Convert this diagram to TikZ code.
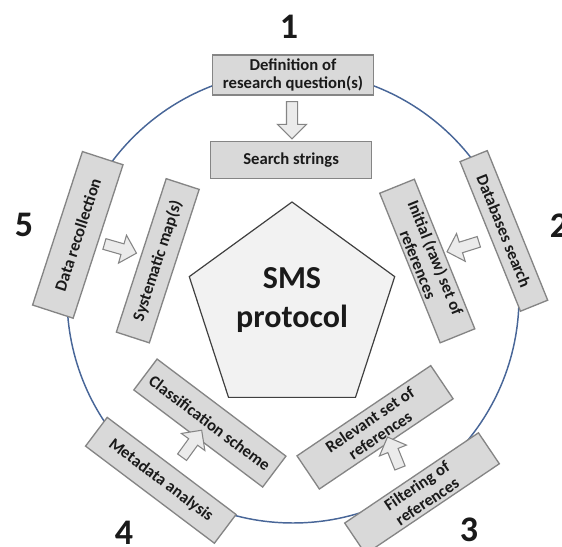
\documentclass[tikz,border=0pt]{standalone}
\usepackage{fontspec}
\setmainfont{Carlito}
\usetikzlibrary{shapes.geometric, shapes.arrows, calc}
\definecolor{boxfill}{HTML}{D9D9D9}
\definecolor{boxline}{HTML}{858585}
\definecolor{pentfill}{HTML}{F2F2F2}
\definecolor{pentline}{HTML}{404040}
\definecolor{ring}{RGB}{72, 102, 152}
\definecolor{arrfill}{HTML}{EBEBEB}
\definecolor{ink}{HTML}{1A1A1A}

\tikzset{
    stage/.style={draw=boxline, fill=boxfill, line width=1pt, minimum width=121pt,
        minimum height=28pt, inner sep=1.8pt, align=center, text=ink,
        font=\bfseries\fontsize{12.5}{14}\selectfont},
    flow/.style={single arrow, draw=boxline, fill=arrfill, line width=0.8pt,
        minimum height=25pt, single arrow head extend=6.75pt, inner sep=3.75pt},
    stepnum/.style={text=ink, font=\bfseries\fontsize{27}{30}\selectfont}
}

\begin{document}
\begin{tikzpicture}[x=0.75pt, y=0.75pt]
    \useasboundingbox (-293,-250) rectangle (269,297);

    % Ring
    \coordinate (c) at (0,0);
    \draw[ring, line width=1.1pt] (c) circle (226);

    % Outer stages
    \node[stage, minimum height=30pt] (def) at (90:222) {Definition of\\research question(s)};
    \node[stage, rotate=-68, minimum height=22pt] (dbs) at (17.4:221) {Databases search};
    \node[stage, rotate=34] (filt) at (-56.7:235) {Filtering of\\references};
    \node[stage, rotate=-37, minimum height=27pt] (meta) at (234.2:226) {Metadata analysis};
    \node[stage, rotate=72, minimum height=32pt] (rec) at (163.9:224) {Data recollection};

    % Inner stages
    \node[stage] (search) at (90.8:137) {Search strings};
    \node[stage, rotate=-68] (init) at (15:139) {Initial (raw) set of\\references};
    \node[stage, rotate=34, minimum height=30pt] (relev) at (-57.8:154) {Relevant set of\\references};
    \node[stage, rotate=-37, minimum height=29pt] (class) at (236.6:151) {Classification scheme};
    \node[stage, rotate=72, minimum height=26pt] (maps) at (165:140) {Systematic map(s)};

    % Block arrows
    \node[flow, rotate=-90, minimum height=28pt] (a1) at ($(def)!0.5!(search)$) {};
    \node[flow, rotate=197.4] (a2) at ($(dbs)!0.5!(init)$) {};
    \node[flow, rotate=112] (a3) at ($(filt)!0.58!(relev)$) {};
    \node[flow, rotate=54] (a4) at ($(meta)!0.6!(class)$) {};
    \node[flow, rotate=344] (a5) at ($(rec)!0.5!(maps)$) {};

    % Protocol
    \node[regular polygon, regular polygon sides=5, minimum size=162pt, inner sep=0pt,
        draw=pentline, fill=pentfill, line width=0.9pt] (sms) at (-1,-13) {};
    \node[align=center, text=ink, font=\bfseries\fontsize{24}{29}\selectfont]
        (smstext) at ($(sms.center)+(0,10)$) {SMS\\protocol};

    % Step numbers
    \node[stepnum] (n1) at (-4,270) {1};
    \node[stepnum] (n2) at (266,71) {2};
    \node[stepnum] (n3) at (176,-233) {3};
    \node[stepnum] (n4) at (-169,-236) {4};
    \node[stepnum] (n5) at (-269,72) {5};
\end{tikzpicture}
\end{document}
